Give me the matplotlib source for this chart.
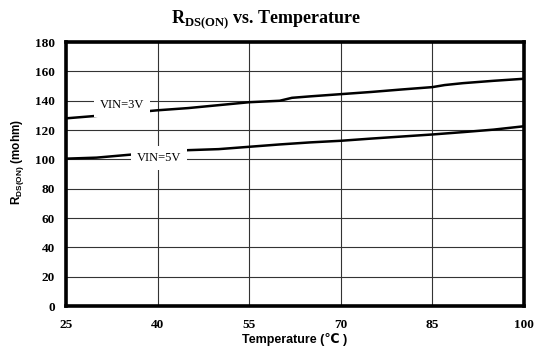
import matplotlib
matplotlib.use("Agg")
import matplotlib.pyplot as plt

# Temperature (°C) and on-resistance (mohm) for the two supply voltages
temp_3v = [25, 30, 40, 45, 50, 55, 60, 62, 65, 70, 75, 80, 85, 87, 90, 95, 100]
rds_3v = [128, 129.7, 133.5, 135, 137, 139, 140, 142, 143, 144.5, 146, 147.7, 149.3, 150.7, 152, 153.6, 155]

temp_5v = [25, 30, 36, 40, 45, 50, 55, 60, 65, 70, 75, 80, 85, 90, 95, 100]
rds_5v = [100.5, 101.2, 103.4, 104.8, 106.3, 107, 108.6, 110.2, 111.6, 112.7, 114.2, 115.6, 117, 118.6, 120.3, 122.6]

x_ticks = [25, 40, 55, 70, 85, 100]
y_ticks = [0, 20, 40, 60, 80, 100, 120, 140, 160, 180]

fig = plt.figure(figsize=(5.35, 3.63), dpi=100)
ax = fig.add_axes([0.1234, 0.157, 0.8560, 0.727])

ax.plot(temp_3v, rds_3v, color="black", lw=1.8, zorder=3)
ax.plot(temp_5v, rds_5v, color="black", lw=1.8, zorder=3)

ax.set_xlim(25, 100)
ax.set_ylim(0, 180)
ax.set_xticks(x_ticks)
ax.set_yticks(y_ticks)
ax.grid(True, color="#333333", lw=0.8)
ax.set_axisbelow(True)
for s in ax.spines.values():
    s.set_linewidth(2.6)
    s.set_color("black")

ax.tick_params(axis="y", length=0, pad=8)
ax.tick_params(axis="x", length=0, pad=9)
for lab in ax.get_xticklabels() + ax.get_yticklabels():
    lab.set_fontfamily("Liberation Serif")
    lab.set_fontweight("bold")
    lab.set_fontsize(9.5)

bbox = dict(boxstyle="square,pad=0.45", fc="white", ec="none")
ax.text(34.2, 137, "VIN=3V", family="Liberation Serif", fontsize=9,
        ha="center", va="center", bbox=bbox, zorder=4)
ax.text(40.2, 101, "VIN=5V", family="Liberation Serif", fontsize=9,
        ha="center", va="center", bbox=bbox, zorder=4)

fig.text(0.497, 0.948, r"R$_{\mathregular{DS(ON)}}$ vs. Temperature",
         family="Liberation Serif", fontweight="bold", fontsize=13,
         ha="center", va="center")

ax.set_xlabel("Temperature (℃ )", family=["Liberation Sans", "DejaVu Sans"],
              fontweight="bold", fontsize=9, labelpad=2)
fig.text(17 / 535, 1 - 162 / 363, r"R$_{\mathregular{DS(ON)}}$ (mohm)",
         family="Liberation Sans", fontweight="bold", fontsize=8.5,
         rotation=90, ha="center", va="center")

fig.savefig("out.png", dpi=100)
